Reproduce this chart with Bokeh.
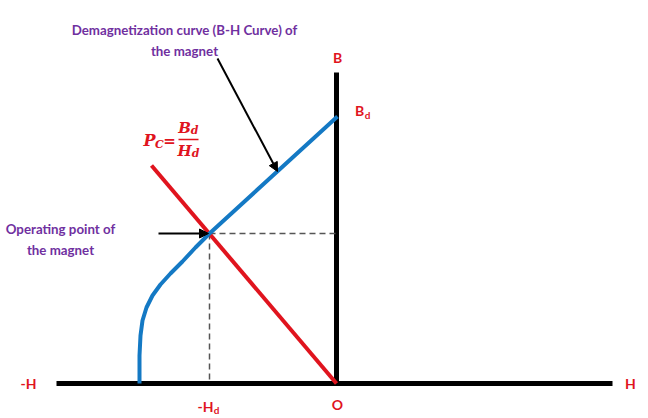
from bokeh.plotting import figure
from bokeh.models import Range1d, Label, Arrow, NormalHead
from bokeh.embed import file_html
from bokeh.resources import INLINE

# ---- data (H, B) in diagram units, origin O at (0, 0) ----
curve_H = [-197, -197, -196, -194, -190, -184, -176, -166, -154, -141, -127, 1]
curve_B = [0, 28, 48, 63, 76, 88, 99, 110, 122, 136, 150, 267]
load_H = [-185, 0]
load_B = [218, 0]
Hd, Bd = -127, 150
H_axis = [-280, 276]
B_axis = [0, 311]

PURPLE = "#7030A0"
RED = "#E0141E"
BLUE = "#1479C4"
FONT = "Lato"

p = figure(width=648, height=418, x_range=Range1d(-336, 312), y_range=Range1d(-35, 383),
           output_backend="svg", toolbar_location=None, min_border=0)
p.xaxis.visible = False
p.yaxis.visible = False
p.grid.visible = False
p.outline_line_color = None

# axes
p.line(H_axis, [0, 0], line_color="black", line_width=5, line_cap="butt")
p.line([0, 0], B_axis, line_color="black", line_width=5, line_cap="butt")

# dashed guides
p.line([Hd, 0], [Bd, Bd], line_color="#555555", line_width=1.5, line_dash="6 4")
p.line([Hd, Hd], [Bd, 0], line_color="#555555", line_width=1.5, line_dash="6 4")

# load line and curve
p.line(load_H, load_B, line_color=RED, line_width=4)
p.line(curve_H, curve_B, line_color=BLUE, line_width=4, line_join="round")

# arrows
p.add_layout(Arrow(end=NormalHead(size=9, fill_color="black", line_color="black"),
                   x_start=-178, y_start=Bd, x_end=Hd - 1, y_end=Bd,
                   line_color="black", line_width=2))
p.add_layout(Arrow(end=NormalHead(size=9, fill_color="black", line_color="black"),
                   x_start=-119, y_start=325, x_end=-59, y_end=212,
                   line_color="black", line_width=2))


def lab(x, y, t, color, size=13, style="bold", font=FONT, align="center"):
    p.add_layout(Label(x=x, y=y, text=t, text_color=color, text_font=font,
                       text_font_size=f"{size}px", text_font_style=style,
                       text_align=align, text_baseline="middle"))


lab(-152, 354, "Demagnetization curve (B-H Curve) of", PURPLE, 13.3)
lab(-152, 333, "the magnet", PURPLE, 13.3)
lab(-276, 155, "Operating point of", PURPLE, 13.3)
lab(-276, 134, "the magnet", PURPLE, 13.3)

lab(1, 326, "B", RED, 14)
lab(23, 273, "B", RED, 14)
lab(31, 269, "d", RED, 10)
lab(-308, 0, "-H", RED, 14)
lab(294, 0, "H", RED, 14)
lab(1, -21, "O", RED, 14)
lab(-131, -23, "-H", RED, 14)
lab(-120, -26, "d", RED, 10)

# formula P_C = B_d / H_d
SF = "DejaVu Serif"
lab(-187, 243, "P", RED, 16, "bold italic", SF)
lab(-177, 239, "C", RED, 11, "bold italic", SF)
lab(-167, 243, "=", RED, 15, "bold", SF)
lab(-152, 256, "B", RED, 15, "bold italic", SF)
lab(-142, 253, "d", RED, 11, "bold italic", SF)
p.line([-158, -138], [244, 244], line_color=RED, line_width=1.5)
lab(-152, 233, "H", RED, 15, "bold italic", SF)
lab(-141, 230, "d", RED, 11, "bold italic", SF)

open("out.html", "w").write(file_html(p, INLINE))
